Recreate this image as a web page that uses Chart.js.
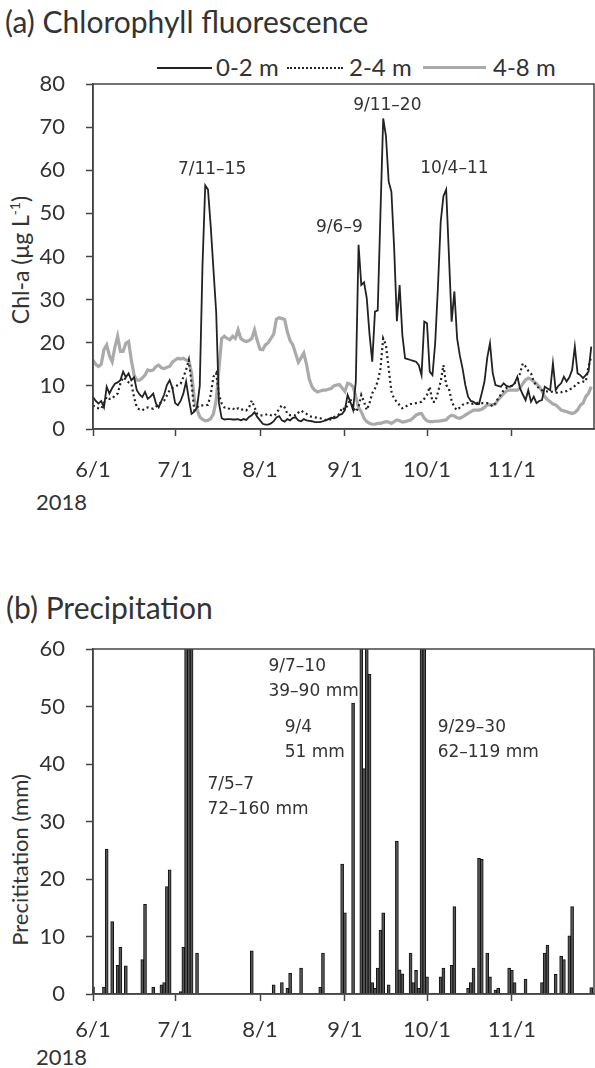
<!DOCTYPE html>
<html>
<head>
<meta charset="utf-8">
<script src="https://cdn.jsdelivr.net/npm/chart.js@4/dist/chart.umd.min.js"></script>
<style>
  body { margin: 0; width: 595px; height: 1068px; position: relative; overflow: hidden; background: #fff; color: #333; font-family: Lato, sans-serif; }
  canvas { position: absolute; left: 0; }
  .t { position: absolute; white-space: nowrap; line-height: 1; }
  .yt { position: absolute; white-space: nowrap; line-height: 1; transform: translate(-50%, -50%) rotate(-90deg); }
  .yt sup { font-size: 60%; }
  .key { position: absolute; height: 0; }
</style>
</head>
<body>
<div class="t" style="left:5px;top:6px;font-size:30px">(a) Chlorophyll fluorescence</div>
<div class="key" style="left:157px;top:67px;width:55px;border-top:2px solid #222"></div>
<div class="t" style="left:216px;top:55px;font-size:24px">0-2 m</div>
<div class="key" style="left:287px;top:67px;width:56px;border-top:2px dotted #222"></div>
<div class="t" style="left:349px;top:55px;font-size:24px">2-4 m</div>
<div class="key" style="left:423px;top:66px;width:63px;border-top:3px solid #aaa"></div>
<div class="t" style="left:493px;top:55px;font-size:24px">4-8 m</div>
<div class="yt" style="left:20px;top:260px;font-size:23px">Chl-a (μg L<sup>-1</sup>)</div>
<div class="t" style="left:36px;top:491px;font-size:22px">2018</div>
<canvas id="chl" width="595" height="500" style="top:0"></canvas>

<div class="t" style="left:6px;top:592px;font-size:30px">(b) Precipitation</div>
<div class="yt" style="left:20px;top:860px;font-size:22px">Precititation (mm)</div>
<div class="t" style="left:36px;top:1046px;font-size:22px">2018</div>
<canvas id="rain" width="595" height="508" style="top:560px"></canvas>

<script>
// days counted from 6/1/2018 (day 0) to 11/30 (day 182)
const monthStart = [0, 30, 61, 92, 122, 153];
const monthLabels = ['6/1', '7/1', '8/1', '9/1', '10/1', '11/1'];

const chl02 = [
  7.4, 6.5, 5.9, 6.5, 5.0, 9.8, 8.2, 9.5, 10.5, 10.8,
  11.3, 13.3, 12.0, 12.9, 11.3, 12.0, 9.0, 8.0, 7.4, 8.6,
  7.0, 7.5, 8.2, 5.9, 5.0, 6.5, 8.0, 10.2, 11.3, 9.5,
  6.0, 5.5, 6.5, 8.2, 11.0, 7.0, 3.5, 4.0, 5.0, 10.0,
  38.0, 56.5, 55.5, 47.0, 37.0, 27.0, 6.0, 2.5, 2.2, 2.3,
  2.3, 2.2, 2.2, 2.3, 2.0, 2.3, 2.1, 2.8, 3.2, 3.9,
  2.8, 2.0, 1.2, 1.0, 1.0, 1.3, 1.8, 2.7, 3.0, 2.0,
  1.7, 2.3, 2.0, 2.6, 2.7, 2.0, 1.8, 2.3, 2.0, 1.9,
  1.8, 1.6, 1.6, 1.6, 1.8, 2.0, 2.3, 2.6, 2.5, 2.7,
  3.3, 3.5, 4.4, 7.9, 6.3, 4.4, 11.0, 42.7, 33.4, 34.0,
  30.3, 22.0, 15.6, 27.2, 27.5, 50.0, 72.0, 68.0, 57.4, 55.0,
  42.0, 25.0, 33.4, 21.8, 16.4, 16.2, 16.0, 15.8, 15.6, 14.8,
  12.5, 24.9, 24.5, 13.3, 12.5, 20.0, 33.0, 48.0, 54.0, 55.5,
  40.4, 24.9, 31.9, 21.0, 17.0, 14.0, 10.2, 7.5, 6.5, 6.3,
  5.8, 5.8, 8.3, 11.0, 16.5, 19.9, 13.0, 10.2, 10.0, 9.8,
  10.6, 10.0, 9.8, 10.0, 10.6, 12.1, 9.4, 8.0, 6.7, 9.0,
  6.3, 7.5, 6.0, 6.5, 6.7, 9.8, 9.4, 9.0, 15.2, 9.0,
  10.0, 10.6, 12.1, 11.0, 12.0, 13.7, 19.1, 12.9, 12.5, 11.8,
  12.5, 13.3, 19.1
];
const chl24 = [
  5.5, 5.0, 4.8, 4.7, 6.0, 7.5, 7.0, 7.0, 7.8, 8.2,
  10.5, 12.0, 11.5, 10.8, 10.5, 7.4, 5.0, 4.5, 4.3, 4.8,
  5.0, 4.8, 4.7, 5.2, 5.8, 6.2, 6.6, 7.8, 9.0, 9.5,
  9.8, 10.2, 10.5, 12.0, 13.7, 16.0, 10.5, 4.3, 5.0, 5.5,
  5.5, 5.5, 5.6, 8.0, 12.1, 13.0, 8.0, 5.9, 5.0, 5.0,
  4.6, 4.8, 4.4, 4.8, 4.4, 4.6, 4.3, 5.0, 6.6, 5.0,
  3.5, 3.2, 3.1, 3.3, 3.5, 3.2, 3.0, 3.6, 4.7, 5.5,
  5.0, 3.5, 3.2, 3.3, 3.1, 3.8, 4.3, 3.8, 3.5, 3.0,
  2.8, 2.7, 2.6, 2.5, 2.3, 2.1, 2.0, 2.3, 2.8, 3.0,
  3.5, 5.0, 4.5, 5.5, 7.0, 5.0, 4.0, 5.0, 7.9, 6.3,
  4.4, 6.0, 8.3, 9.4, 11.0, 14.0, 21.0, 19.5, 14.0, 8.7,
  7.0, 6.3, 5.5, 4.8, 5.0, 5.6, 5.8, 5.8, 6.0, 6.2,
  6.3, 7.0, 7.9, 9.8, 6.3, 6.3, 8.5, 11.0, 14.8, 10.2,
  9.4, 6.5, 5.0, 4.4, 5.0, 5.6, 6.0, 6.0, 5.8, 5.9,
  6.0, 6.1, 6.0, 6.0, 6.0, 5.8, 5.2, 6.0, 7.1, 8.0,
  9.0, 9.5, 9.8, 10.0, 10.6, 11.5, 12.9, 15.2, 14.5, 13.5,
  12.9, 11.0, 10.0, 9.4, 9.0, 8.8, 8.7, 8.6, 8.7, 8.5,
  8.3, 8.5, 8.8, 8.8, 9.2, 9.4, 10.0, 10.6, 10.8, 11.0,
  11.0, 14.5, 16.8
];
const chl48 = [
  16.0, 15.0, 14.5, 15.0, 18.4, 19.5, 17.0, 15.6, 19.0, 21.5,
  18.0, 18.0, 19.9, 20.3, 16.0, 12.5, 11.3, 11.3, 11.8, 12.5,
  13.7, 13.5, 13.7, 14.5, 14.8, 14.2, 14.0, 14.3, 14.5, 15.5,
  16.0, 16.4, 16.2, 16.4, 16.0, 15.8, 13.0, 7.0, 4.5, 2.8,
  2.2, 1.9, 2.0, 2.4, 3.5, 6.7, 14.0, 21.0, 21.5, 21.0,
  20.7, 21.5, 21.0, 23.0, 21.0, 20.5, 20.3, 20.5, 21.0, 23.0,
  20.5, 18.5, 18.4, 19.5, 20.0, 21.0, 22.0, 25.5, 25.8, 25.6,
  25.4, 22.5, 20.5, 19.5, 17.5, 15.5, 16.5, 17.6, 15.0, 11.5,
  9.8, 9.0, 8.6, 8.8, 9.0, 9.0, 9.2, 9.4, 10.0, 10.2,
  10.3, 9.5, 8.7, 10.6, 10.4, 9.8, 7.5, 5.0, 4.0, 2.5,
  1.7, 1.3, 1.1, 1.1, 1.3, 1.3, 1.5, 1.7, 1.6, 1.3,
  1.7, 2.1, 1.9, 1.6, 1.7, 1.9, 2.1, 2.6, 3.2, 3.5,
  3.6, 2.5, 1.9, 1.7, 1.7, 1.8, 1.8, 1.9, 2.0, 2.1,
  2.8, 3.2, 3.0, 2.6, 2.5, 2.8, 3.2, 3.6, 4.0, 4.4,
  4.4, 4.4, 4.6, 5.0, 5.6, 5.6, 5.6, 5.8, 6.8, 7.5,
  8.2, 8.8, 9.0, 9.0, 9.0, 9.0, 9.5, 10.5, 11.4, 11.8,
  11.5, 11.0, 10.5, 9.8, 8.8, 7.5, 6.8, 6.3, 5.8, 5.6,
  5.0, 4.4, 4.2, 4.0, 3.8, 3.6, 3.8, 4.4, 5.5, 6.0,
  7.5, 8.3, 9.8
];

// daily precipitation (mm), only days with rain
const rainDay = [0, 4, 5, 7, 9, 10, 12, 18, 19, 22, 25, 26, 27, 28, 32, 33, 34, 35, 36, 38,
  58, 66, 69, 71, 72, 76, 83, 84, 91, 92, 95, 98, 99, 100, 101, 102, 103, 104, 105, 106,
  108, 111, 112, 113, 116, 117, 118, 119, 120, 121, 122, 127, 128, 131, 132, 137, 138, 139, 141, 142,
  144, 145, 147, 148, 152, 153, 154, 158, 164, 165, 166, 169, 171, 172, 174, 175, 182];
const rainMm = [1.2, 1.2, 25.2, 12.6, 5, 8.1, 4.9, 6, 15.6, 1.2, 1.6, 2, 18.7, 21.6, 0.4, 8.1, 72, 160, 115, 7.1,
  7.5, 1.6, 2, 1, 3.6, 4.5, 1.2, 7.1, 22.6, 14.1, 50.6, 90, 39.2, 70, 55.6, 2, 1, 4.5, 11.1, 14.1,
  1.6, 26.6, 4.2, 3.5, 7.1, 2, 4.1, 1, 62, 119, 3, 3, 4.5, 5, 15.2, 1, 2, 4.5, 23.6, 23.4,
  7.1, 3, 0.7, 1, 4.5, 4.1, 2, 2.6, 2, 7.1, 8.5, 3.4, 6.6, 6, 10.1, 15.2, 1.1];

const chlNoteText = [['7/11–15'], ['9/11–20'], ['9/6–9'], ['10/4–11']];
const chlNoteDay = [43.5, 107.5, 90, 132];
const chlNoteValue = [60.1, 74.9, 46.6, 60.3];

const rainNoteText = [['9/7–10', '39–90 mm'], ['9/4', '51 mm'], ['7/5–7', '72–160 mm'], ['9/29–30', '62–119 mm']];
const rainNoteDay = [64.1, 70, 41.8, 125.9];
const rainNoteValue = [56.9, 46.3, 36.5, 46.3];

const ink = '#333';
const axisFont = { family: 'Lato', size: 22 };

const framePlugin = {
  id: 'frame',
  afterDatasetsDraw(chart) {
    const { ctx, chartArea: a } = chart;
    ctx.save();
    ctx.strokeStyle = '#444';
    ctx.lineWidth = 1.5;
    ctx.strokeRect(a.left, a.top, a.right - a.left, a.bottom - a.top);
    ctx.restore();
  }
};

const notesPlugin = {
  id: 'notes',
  afterDraw(chart, args, opts) {
    const { ctx, scales } = chart;
    ctx.save();
    ctx.font = opts.font;
    ctx.fillStyle = ink;
    ctx.textAlign = opts.align;
    ctx.textBaseline = 'middle';
    opts.text.forEach((lines, i) => {
      const px = scales.x.getPixelForValue(opts.day[i]);
      const py = scales.y.getPixelForValue(opts.value[i]);
      lines.forEach((line, k) => ctx.fillText(line, px, py + k * opts.lineGap));
    });
    ctx.restore();
  }
};

function timeAxis(height, pad) {
  return {
    type: 'linear',
    min: 0,
    max: 183,
    offset: false,
    afterBuildTicks: s => { s.ticks = monthStart.map(v => ({ value: v })); },
    afterFit: s => { s.height = height; },
    ticks: {
      autoSkip: false,
      maxRotation: 0,
      padding: pad,
      color: ink,
      font: axisFont,
      callback: (v, i) => monthLabels[i]
    },
    grid: { offset: false, drawOnChartArea: false, drawTicks: true, tickLength: 7, tickColor: '#444', tickWidth: 1.5 },
    border: { display: true, color: '#444', width: 1.5 }
  };
}

function valueAxis(max) {
  return {
    min: 0,
    max: max,
    afterFit: s => { s.width = 93; },
    ticks: { stepSize: 10, padding: 21, color: ink, font: axisFont },
    grid: { drawOnChartArea: false, drawTicks: true, tickLength: 7, tickColor: '#444', tickWidth: 1.5 },
    border: { display: true, color: '#444', width: 1.5 }
  };
}

const toPoints = arr => arr.map((v, i) => ({ x: i, y: v }));

new Chart(document.getElementById('chl'), {
  type: 'line',
  data: {
    datasets: [
      { label: '0-2 m', data: toPoints(chl02), borderColor: '#222', borderWidth: 1.8, pointRadius: 0, tension: 0 },
      { label: '2-4 m', data: toPoints(chl24), borderColor: '#222', borderWidth: 2.2, borderDash: [2, 3], pointRadius: 0, tension: 0 },
      { label: '4-8 m', data: toPoints(chl48), borderColor: '#aaa', borderWidth: 3.2, pointRadius: 0, tension: 0 }
    ]
  },
  options: {
    responsive: false,
    animation: false,
    layout: { padding: { top: 84, right: 1, left: 0, bottom: 0 } },
    plugins: {
      legend: { display: false },
      tooltip: { enabled: false },
      notes: { text: chlNoteText, day: chlNoteDay, value: chlNoteValue, font: '17px "DejaVu Sans"', align: 'center', lineGap: 0 }
    },
    scales: { x: timeAxis(71, 21), y: valueAxis(80) }
  },
  plugins: [framePlugin, notesPlugin]
});

new Chart(document.getElementById('rain'), {
  type: 'bar',
  data: {
    datasets: [{
      label: 'Precipitation',
      data: rainDay.map((d, i) => ({ x: d, y: rainMm[i] })),
      backgroundColor: '#555',
      borderColor: '#111',
      borderWidth: 1,
      borderSkipped: 'bottom',
      barThickness: 3,
      clip: 0
    }]
  },
  options: {
    responsive: false,
    animation: false,
    layout: { padding: { top: 89, right: 1, left: 0, bottom: 0 } },
    plugins: {
      legend: { display: false },
      tooltip: { enabled: false },
      notes: { text: rainNoteText, day: rainNoteDay, value: rainNoteValue, font: '17px "DejaVu Sans"', align: 'left', lineGap: 25 }
    },
    scales: { x: timeAxis(74, 16), y: valueAxis(60) }
  },
  plugins: [framePlugin, notesPlugin]
});
</script>
</body>
</html>
